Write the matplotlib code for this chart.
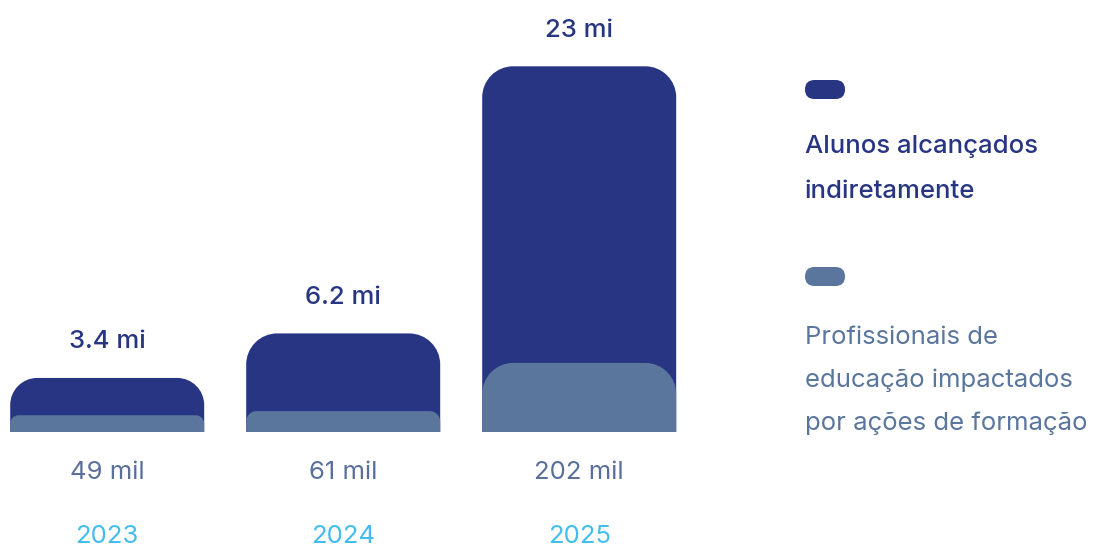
import matplotlib
matplotlib.use("Agg")
import matplotlib.pyplot as plt
from matplotlib.path import Path
from matplotlib.patches import PathPatch, FancyBboxPatch

years = ["2023", "2024", "2025"]
alunos_mi = [3.4, 6.2, 23]
profissionais_mil = [49, 61, 202]
alunos_labels = ["3.4 mi", "6.2 mi", "23 mi"]
prof_labels = ["49 mil", "61 mil", "202 mil"]
legend_alunos = ["Alunos alcançados", "indiretamente"]
legend_prof = ["Profissionais de", "educação impactados", "por ações de formação"]

DARK = "#283583"
LIGHT = "#5b769d"
YEAR = "#41bdef"
PROF_TXT = "#5a6f99"
FONT = "Inter"
FS = 18.5

W, H = 1099, 548
fig = plt.figure(figsize=(W / 100, H / 100), dpi=100)

ax = fig.add_axes([1 / W, 116 / H, 684.4 / W, 432 / H])
ax2 = ax.twinx()
for a in (ax, ax2):
    a.set_xlim(-0.45, 2.45)
    a.axis("off")
ax.set_ylim(0, 432 / 15.9)
ax2.set_ylim(0, 432 / 0.342)

x = list(range(len(years)))
bw = 0.822


def rounded_bar(a, xc, h, width, r_px, color):
    x0, x1 = xc - width / 2, xc + width / 2
    ppx = a.bbox.width / (a.get_xlim()[1] - a.get_xlim()[0])
    ppy = a.bbox.height / (a.get_ylim()[1] - a.get_ylim()[0])
    h_px = h * ppy
    r = min(r_px, h_px / 2, width * ppx / 2)
    rx, ry = r / ppx, r / ppy
    y1 = h
    k = 0.5523
    verts = [
        (x0, 0), (x0, y1 - ry),
        (x0, y1 - ry + k * ry), (x0 + rx - k * rx, y1), (x0 + rx, y1),
        (x1 - rx, y1),
        (x1 - rx + k * rx, y1), (x1, y1 - ry + k * ry), (x1, y1 - ry),
        (x1, 0), (x0, 0),
    ]
    codes = [Path.MOVETO, Path.LINETO,
             Path.CURVE4, Path.CURVE4, Path.CURVE4,
             Path.LINETO,
             Path.CURVE4, Path.CURVE4, Path.CURVE4,
             Path.LINETO, Path.CLOSEPOLY]
    a.add_patch(PathPatch(Path(verts, codes), facecolor=color, edgecolor="none"))


for xi, v in zip(x, alunos_mi):
    rounded_bar(ax, xi, v, bw, 31, DARK)
for xi, v in zip(x, profissionais_mil):
    rounded_bar(ax2, xi, v, bw, 31, LIGHT)

for xi, v, lab in zip(x, alunos_mi, alunos_labels):
    ax.annotate(lab, (xi, v), xytext=(0, 26), textcoords="offset points",
                ha="center", va="center", fontsize=FS, color=DARK, family=FONT,
                fontweight="medium")
for xi, lab in zip(x, prof_labels):
    ax.annotate(lab, (xi, 0), xytext=(0, -29.5), textcoords="offset points",
                ha="center", va="center", fontsize=FS, color=PROF_TXT, family=FONT)
for xi, lab in zip(x, years):
    ax.annotate(lab, (xi, 0), xytext=(0, -75), textcoords="offset points",
                ha="center", va="center", fontsize=FS, color=YEAR, family=FONT)

# legend
lg = fig.add_axes([0, 0, 1, 1])
lg.set_xlim(0, W)
lg.set_ylim(H, 0)
lg.axis("off")
lg.patch.set_alpha(0)
lg.add_patch(FancyBboxPatch((805, 80), 40, 19, boxstyle="round,pad=0,rounding_size=9.5",
                            facecolor=DARK, edgecolor="none"))
lg.add_patch(FancyBboxPatch((805, 267), 40, 19, boxstyle="round,pad=0,rounding_size=9.5",
                            facecolor=LIGHT, edgecolor="none"))
for i, line in enumerate(legend_alunos):
    lg.text(805, 147 + 45 * i, line, ha="left", va="center", fontsize=FS,
            color=DARK, family=FONT, fontweight="medium")
for i, line in enumerate(legend_prof):
    lg.text(805, 337 + 43 * i, line, ha="left", va="center", fontsize=FS,
            color=LIGHT, family=FONT)

fig.savefig("out.png", dpi=100)
